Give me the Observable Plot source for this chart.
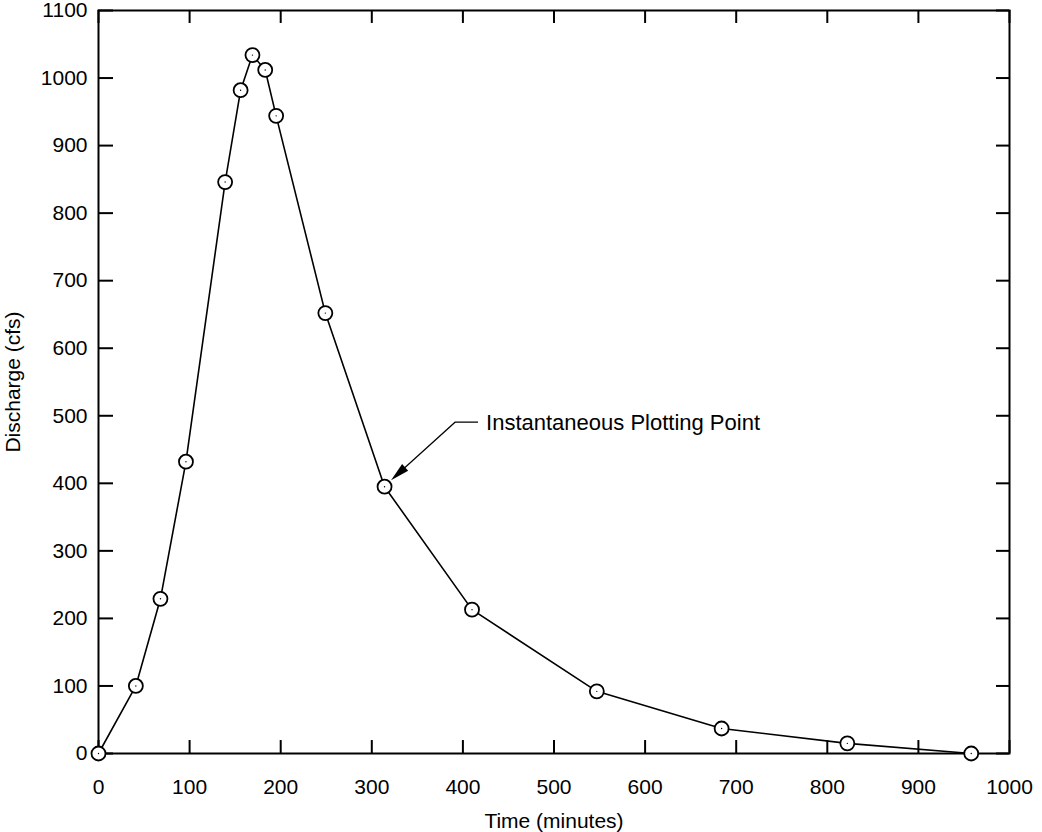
<!DOCTYPE html>
<html>
<head>
<meta charset="utf-8">
<script src="https://cdn.jsdelivr.net/npm/d3@7"></script>
<script src="https://cdn.jsdelivr.net/npm/@observablehq/plot@0.6"></script>
<style>
  html, body { margin: 0; padding: 0; background: #fff; }
  svg { font-family: "Liberation Sans", Arial, sans-serif; }
</style>
</head>
<body>
<div id="chart"></div>
<script>
const timeMin = [0, 41, 68, 96, 139, 156, 169, 183, 195, 249, 314, 410, 547, 684, 822, 958];
const discharge = [0, 100, 229, 432, 846, 982, 1034, 1012, 944, 652, 395, 213, 92, 37, 15, 0];
const xTicks = [0, 100, 200, 300, 400, 500, 600, 700, 800, 900, 1000];
const yTicks = [0, 100, 200, 300, 400, 500, 600, 700, 800, 900, 1000, 1100];
const annotationPoint = { t: 314, q: 395, label: "Instantaneous Plotting Point" };

const data = timeMin.map((t, i) => ({ t, q: discharge[i] }));

const annotationMark = (index, scales, values, dims, context) => {
  const px = scales.x(annotationPoint.t), py = scales.y(annotationPoint.q);
  const tip = [px + 7, py - 6];
  const elbow = [px + 71, py - 64];
  const end = [px + 94, py - 64];
  const g = d3.create("svg:g");
  g.append("path")
    .attr("d", `M${end[0]},${end[1]}L${elbow[0]},${elbow[1]}L${tip[0] + 12},${tip[1] - 11}`)
    .attr("fill", "none").attr("stroke", "black").attr("stroke-width", 1.2);
  const ang = Math.atan2(tip[1] - elbow[1], tip[0] - elbow[0]);
  const L = 19, W = 4.5;
  const bx = tip[0] - L * Math.cos(ang), by = tip[1] - L * Math.sin(ang);
  const nx = -Math.sin(ang) * W, ny = Math.cos(ang) * W;
  g.append("path")
    .attr("d", `M${tip[0]},${tip[1]}L${bx + nx},${by + ny}L${bx - nx},${by - ny}Z`)
    .attr("fill", "black");
  g.append("text")
    .attr("x", end[0] + 8).attr("y", end[1])
    .attr("dy", "0.35em")
    .attr("text-anchor", "start")
    .attr("font-size", 22)
    .attr("fill", "black")
    .text(annotationPoint.label);
  return g.node();
};

const chart = Plot.plot({
  width: 1042,
  height: 832,
  marginLeft: 98,
  marginRight: 33,
  marginTop: 10,
  marginBottom: 79,
  style: { fontSize: "21px", fontFamily: "Liberation Sans, Arial, sans-serif", color: "black", background: "white" },
  x: { domain: [0, 1000] },
  y: { domain: [0, 1100] },
  marks: [
    Plot.axisX({ ticks: xTicks, tickFormat: d => String(d), tickSize: 0, tickPadding: 26, label: "Time (minutes)", labelAnchor: "center", labelArrow: "none", labelOffset: 74, fontSize: 21 }),
    Plot.axisY({ ticks: yTicks, tickFormat: d => String(d), tickSize: 0, tickPadding: 11, label: "Discharge (cfs)", labelAnchor: "center", labelArrow: "none", labelOffset: 93, fontSize: 21 }),
    Plot.ruleX(xTicks, { x: d => d, y1: 1100, y2: 1100 - 13 / 0.677, stroke: "black", strokeWidth: 2 }),
    Plot.ruleX(xTicks, { x: d => d, y1: 0, y2: 13 / 0.677, stroke: "black", strokeWidth: 2 }),
    Plot.ruleY(yTicks, { y: d => d, x1: 0, x2: 15 / 0.911, stroke: "black", strokeWidth: 2 }),
    Plot.ruleY(yTicks, { y: d => d, x1: 1000, x2: 1000 - 13 / 0.911, stroke: "black", strokeWidth: 2 }),
    Plot.frame({ stroke: "black", strokeWidth: 2 }),
    Plot.line(data, { x: "t", y: "q", stroke: "black", strokeWidth: 1.6 }),
    Plot.dot(data, { x: "t", y: "q", r: 7, stroke: "black", strokeWidth: 1.8, fill: "white" }),
    Plot.dot(data, { x: "t", y: "q", r: 0.7, fill: "black" }),
    annotationMark
  ]
});
document.getElementById("chart").appendChild(chart);
</script>
</body>
</html>
